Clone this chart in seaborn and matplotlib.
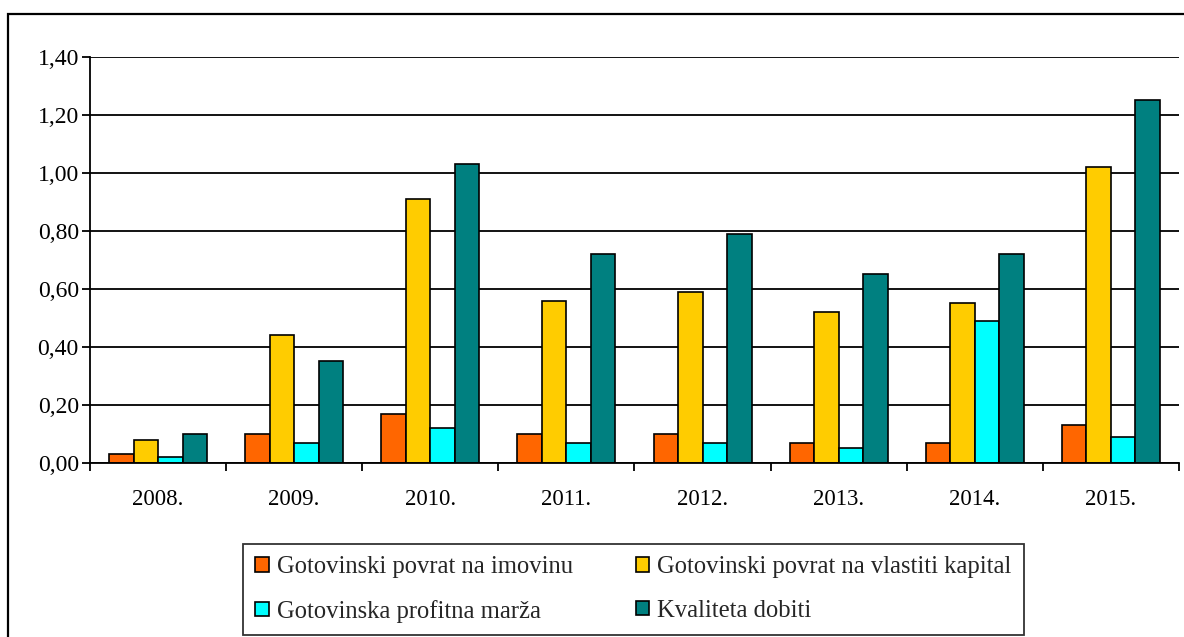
import seaborn as sns
import matplotlib.pyplot as plt
import pandas as pd
from matplotlib.patches import Rectangle
from matplotlib.ticker import FuncFormatter, FixedLocator

years = ['2008.', '2009.', '2010.', '2011.', '2012.', '2013.', '2014.', '2015.']
series = ['Gotovinski povrat na imovinu', 'Gotovinski povrat na vlastiti kapital',
          'Gotovinska profitna marža', 'Kvaliteta dobiti']
povrat_imovina = [0.03, 0.10, 0.17, 0.10, 0.10, 0.07, 0.07, 0.13]
povrat_kapital = [0.08, 0.44, 0.91, 0.56, 0.59, 0.52, 0.55, 1.02]
profitna_marza = [0.02, 0.07, 0.12, 0.07, 0.07, 0.05, 0.49, 0.09]
kvaliteta_dobiti = [0.10, 0.35, 1.03, 0.72, 0.79, 0.65, 0.72, 1.25]
colors = ['#FF6600', '#FFCC00', '#00FFFF', '#008080']

rows = []
for name, vals in zip(series, [povrat_imovina, povrat_kapital, profitna_marza, kvaliteta_dobiti]):
    for y, v in zip(years, vals):
        rows.append({'Godina': y, 'Serija': name, 'Vrijednost': v})
df = pd.DataFrame(rows)

sns.set_style('white')
plt.rcParams['font.family'] = ['Liberation Serif', 'DejaVu Serif']

fig = plt.figure(figsize=(11.84, 6.37), dpi=100)
ax = fig.add_axes([0.076, 0.2732, 0.9197, 0.6374])
ax.set_axisbelow(True)

sns.barplot(data=df, x='Godina', y='Vrijednost', hue='Serija', hue_order=series,
            palette=colors, width=0.72, gap=0, edgecolor='black', linewidth=1.2,
            saturation=1, ax=ax, legend=True)

ax.set_ylim(0, 1.4)
ax.set_xlim(-0.5, 7.5)
ax.set_yticks([0, 0.2, 0.4, 0.6, 0.8, 1.0, 1.2, 1.4])
ax.yaxis.set_major_formatter(FuncFormatter(lambda v, p: f'{v:.2f}'.replace('.', ',')))
ax.grid(axis='y', color='black', linewidth=1.3)
ax.set_xlabel('')
ax.set_ylabel('')
for s in ['top', 'right']:
    ax.spines[s].set_visible(False)
for s in ['left', 'bottom']:
    ax.spines[s].set_color('black')
    ax.spines[s].set_linewidth(1.3)
ax.tick_params(axis='x', which='major', length=0, labelsize=16.5, pad=19, colors='black')
ax.xaxis.set_minor_locator(FixedLocator([i - 0.5 for i in range(9)]))
ax.tick_params(axis='x', which='minor', bottom=True, length=6, width=1.3, color='black', direction='out')
ax.tick_params(axis='y', left=True, length=6, width=1.3, color='black', labelsize=17, pad=2,
               direction='out', labelcolor='black')

handles, labels = ax.get_legend_handles_labels()
ax.get_legend().remove()
order = [0, 2, 1, 3]
leg = fig.legend([handles[i] for i in order], [labels[i] for i in order], ncol=2,
                 loc='lower left', bbox_to_anchor=(243 / 1184, 2 / 637),
                 frameon=True, fancybox=False, edgecolor='black', fontsize=17.7,
                 handlelength=0.55, handleheight=0.55, handletextpad=0.33, borderpad=0.5,
                 labelspacing=0.87, columnspacing=2.55, borderaxespad=0)
leg.get_frame().set_linewidth(1.3)

fig.patches.append(Rectangle((8 / 1184, -0.05), 1.0, 0.978 + 0.05, transform=fig.transFigure,
                             fill=False, edgecolor='black', linewidth=1.6))

fig.savefig('out.png', dpi=100)
